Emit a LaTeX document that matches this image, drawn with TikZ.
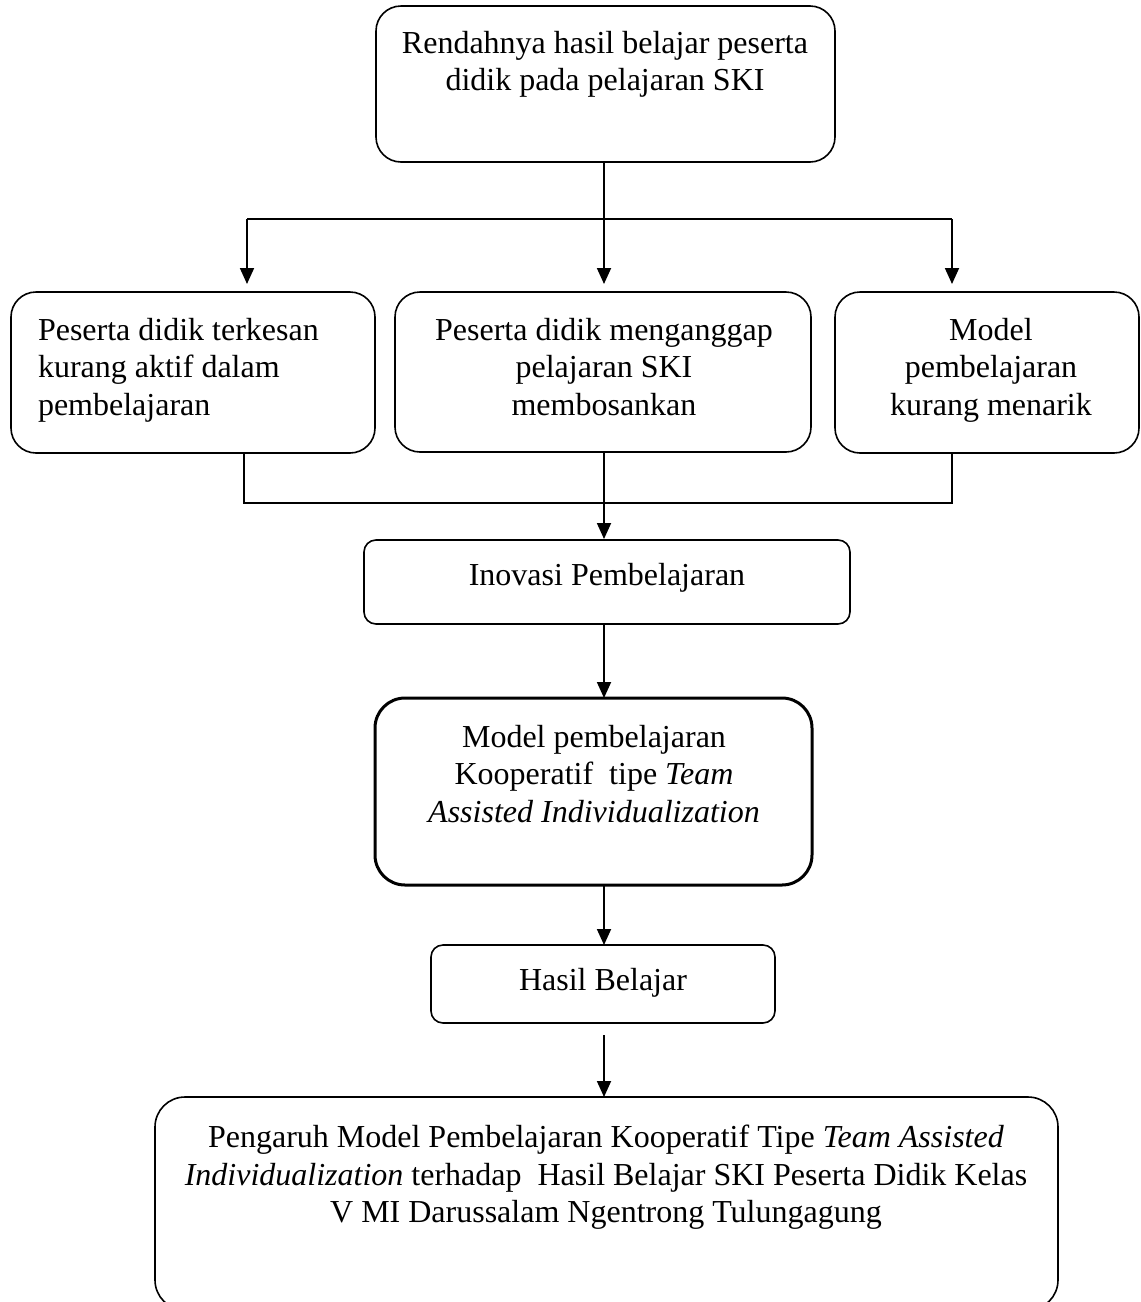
\documentclass[tikz,border=0pt]{standalone}
\usepackage{fontspec}
\setmainfont{Liberation Serif}
\usetikzlibrary{arrows.meta}
\begin{document}
\begin{tikzpicture}[x=1pt,y=-1pt,
  box/.style={draw, line width=1.6pt, inner sep=0pt, outer sep=0pt, rounded corners=25pt},
  txt/.style={inner sep=0pt, outer sep=0pt, align=center, font=\fontsize{32}{37.5}\selectfont},
  ln/.style={line width=1.8pt},
  arr/.style={line width=1.8pt, -{Triangle[length=16pt,width=14pt]}}]
\useasboundingbox (0,0) rectangle (1141,1302);
\clip (0,0) rectangle (1141,1302);
% boxes
\node[box, minimum width=459pt, minimum height=156pt] (top) at (605.5,84) {};
\node[box, minimum width=364pt, minimum height=161pt] (left) at (193,372.5) {};
\node[box, minimum width=416pt, minimum height=160pt] (mid) at (603,372) {};
\node[box, minimum width=304pt, minimum height=161pt] (right) at (987,372.5) {};
\node[box, rounded corners=12pt, minimum width=486pt, minimum height=84pt] (inov) at (607,582) {};
\node[box, line width=3pt, rounded corners=30pt, minimum width=437pt, minimum height=187pt] (model) at (593.5,791.5) {};
\node[box, rounded corners=12pt, minimum width=344pt, minimum height=78pt] (hasil) at (603,984) {};
\node[box, rounded corners=30pt, minimum width=903pt, minimum height=213pt] (final) at (606.5,1203.5) {};
% texts
\node[txt, anchor=north] (ttop) at (605,31) {Rendahnya hasil belajar peserta\\didik pada pelajaran SKI};
\node[txt, anchor=north west, align=left] (tleft) at (38,318) {Peserta didik terkesan\\kurang aktif dalam\\pembelajaran};
\node[txt, anchor=north] (tmid) at (604,318) {Peserta didik menganggap\\pelajaran SKI\\membosankan};
\node[txt, anchor=north] (tright) at (991,318) {Model\\pembelajaran\\kurang menarik};
\node[txt, anchor=base] (tinov) at (607,585) {Inovasi Pembelajaran};
\node[txt, anchor=north] (tmodel) at (594,725) {Model pembelajaran\\Kooperatif~ tipe \textit{Team}\\\textit{Assisted Individualization}};
\node[txt, anchor=base] (thasil) at (603,990) {Hasil Belajar};
\node[txt, anchor=north] (tfinal) at (606,1125) {Pengaruh Model Pembelajaran Kooperatif Tipe \textit{Team Assisted}\\\textit{Individualization} terhadap~ Hasil Belajar SKI Peserta Didik Kelas\\V MI Darussalam Ngentrong Tulungagung};
% connectors
\coordinate (jt) at (604,219);
\coordinate (jtl) at (247,219);
\coordinate (jtr) at (952,219);
\draw[arr, shorten >=8pt] (top.south -| jt) -- (jt |- mid.north);
\draw[ln] (jtl) -- (jtr);
\draw[arr, shorten >=8pt] (jtl) -- (jtl |- left.north);
\draw[arr, shorten >=8pt] (jtr) -- (jtr |- right.north);
\coordinate (jbl) at (244,503);
\coordinate (jbr) at (952,503);
\draw[ln] (jbl |- left.south) -- (jbl) -- (jbr) -- (jbr |- right.south);
\draw[arr, shorten >=1pt] (jt |- mid.south) -- (jt |- inov.north);
\draw[arr] (jt |- inov.south) -- (jt |- model.north);
\draw[arr] (jt |- model.south) -- (jt |- hasil.north);
\coordinate (hs) at (604,1035);
\draw[arr] (hs) -- (hs |- final.north);
\end{tikzpicture}
\end{document}
